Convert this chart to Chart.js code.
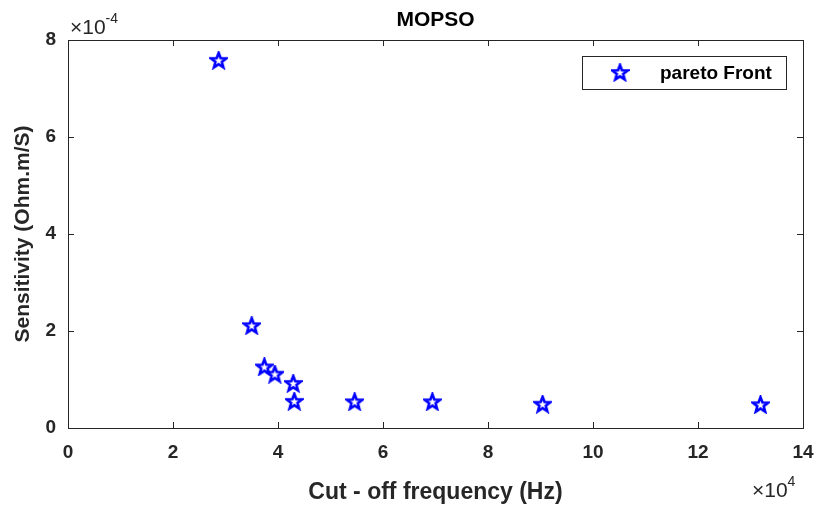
<!DOCTYPE html>
<html lang="en">
<head>
    <meta charset="UTF-8">
    <title>MOPSO</title>
    <script src="https://cdn.jsdelivr.net/npm/chart.js"></script>
    <style>
        html, body { margin: 0; padding: 0; background: #fff; }
        #wrap { width: 818px; height: 506px; }
    </style>
</head>
<body>
    <div id="wrap">
        <canvas id="paretoChart" width="818" height="506"></canvas>
    </div>

    <script>
        // cut-off frequency, in units of 1e4 Hz
        const freqValues = [2.87, 3.50, 3.74, 3.94, 4.29, 4.31, 5.46, 6.94, 9.04, 13.19];
        // sensitivity, in units of 1e-4 Ohm.m/S
        const sensValues = [7.58, 2.11, 1.26, 1.11, 0.92, 0.55, 0.54, 0.54, 0.49, 0.48];
        const xTicks = [0, 2, 4, 6, 8, 10, 12, 14];
        const yTicks = [0, 2, 4, 6, 8];
        const seriesName = 'pareto Front';

        const textColor = '#262626';
        const fontFamily = '"Liberation Sans", Arial, Helvetica, sans-serif';

        // five-point star marker (hollow, blue outline)
        function makeStar(size, color) {
            const c = document.createElement('canvas');
            c.width = size;
            c.height = size;
            const g = c.getContext('2d');
            const cx = size / 2, cy = size / 2 + 0.5;
            const R = size / 2 - 1.5, r = R * 0.42;
            g.beginPath();
            for (let i = 0; i < 10; i++) {
                const rad = i % 2 === 0 ? R : r;
                const a = -Math.PI / 2 + i * Math.PI / 5;
                g.lineTo(cx + rad * Math.cos(a), cy + rad * Math.sin(a));
            }
            g.closePath();
            g.strokeStyle = color;
            g.lineWidth = 2.6;
            g.lineJoin = 'miter';
            g.stroke();
            return c;
        }
        const starImg = makeStar(19, '#0000ff');

        // box around the axes + inward ticks + exponent labels + legend
        const matlabAxes = {
            id: 'matlabAxes',
            afterDraw(chart) {
                const ctx = chart.ctx;
                const a = chart.chartArea;
                const xs = chart.scales.x, ys = chart.scales.y;
                const tl = 6;
                ctx.save();
                ctx.strokeStyle = textColor;
                ctx.lineWidth = 1;
                ctx.strokeRect(a.left + 0.5, a.top + 0.5, a.right - a.left, a.bottom - a.top);
                ctx.beginPath();
                xTicks.forEach(v => {
                    const px = Math.round(xs.getPixelForValue(v)) + 0.5;
                    ctx.moveTo(px, a.bottom); ctx.lineTo(px, a.bottom - tl);
                    ctx.moveTo(px, a.top); ctx.lineTo(px, a.top + tl);
                });
                yTicks.forEach(v => {
                    const py = Math.round(ys.getPixelForValue(v)) + 0.5;
                    ctx.moveTo(a.left, py); ctx.lineTo(a.left + tl, py);
                    ctx.moveTo(a.right, py); ctx.lineTo(a.right - tl, py);
                });
                ctx.stroke();

                // exponent labels
                ctx.fillStyle = textColor;
                ctx.textBaseline = 'alphabetic';
                ctx.textAlign = 'left';
                ctx.font = '21px ' + fontFamily;
                ctx.fillText('\u00d710', a.left + 2, a.top - 6);
                let w = ctx.measureText('\u00d710').width;
                ctx.font = '14px ' + fontFamily;
                ctx.fillText('-4', a.left + 2 + w, a.top - 17);

                ctx.font = '21px ' + fontFamily;
                ctx.fillText('\u00d710', a.right - 51, a.bottom + 69);
                w = ctx.measureText('\u00d710').width;
                ctx.font = '14px ' + fontFamily;
                ctx.fillText('4', a.right - 51 + w, a.bottom + 58);

                // legend
                const lw = 204, lh = 33;
                const lx = a.right - 17 - lw, ly = a.top + 16;
                ctx.fillStyle = '#ffffff';
                ctx.fillRect(lx, ly, lw, lh);
                ctx.strokeStyle = textColor;
                ctx.strokeRect(lx + 0.5, ly + 0.5, lw, lh);
                ctx.drawImage(starImg, lx + 38 - starImg.width / 2, ly + lh / 2 - starImg.height / 2);
                ctx.fillStyle = '#000000';
                ctx.font = 'bold 19px ' + fontFamily;
                ctx.textBaseline = 'middle';
                ctx.fillText(seriesName, lx + 78, ly + lh / 2 + 1);
                ctx.restore();
            }
        };

        const points = freqValues.map((f, i) => ({ x: f, y: sensValues[i] }));

        const ctx = document.getElementById('paretoChart').getContext('2d');
        new Chart(ctx, {
            type: 'scatter',
            data: {
                datasets: [{
                    label: seriesName,
                    data: points,
                    pointStyle: starImg,
                    pointRadius: 9,
                    pointHoverRadius: 9
                }]
            },
            options: {
                responsive: false,
                animation: false,
                events: [],
                layout: { padding: { left: 0, right: 15, top: 0, bottom: 0 } },
                scales: {
                    x: {
                        type: 'linear',
                        min: 0,
                        max: 14,
                        afterBuildTicks: s => { s.ticks = xTicks.map(v => ({ value: v })); },
                        afterFit: s => {
                            s.height = 78;
                            s.paddingLeft = 0;
                            s.paddingRight = 0;
                        },
                        grid: { display: false, drawTicks: false },
                        border: { display: false },
                        ticks: {
                            padding: 13,
                            color: textColor,
                            font: { family: fontFamily, size: 19, weight: 'bold' }
                        },
                        title: {
                            display: true,
                            text: 'Cut - off frequency (Hz)',
                            color: textColor,
                            font: { family: fontFamily, size: 23, weight: 'bold' },
                            padding: { top: 7, bottom: 0 }
                        }
                    },
                    y: {
                        type: 'linear',
                        min: 0,
                        max: 8,
                        afterBuildTicks: s => { s.ticks = yTicks.map(v => ({ value: v })); },
                        afterFit: s => {
                            s.width = 68;
                            s.paddingTop = 0;
                            s.paddingBottom = 0;
                        },
                        grid: { display: false, drawTicks: false },
                        border: { display: false },
                        ticks: {
                            padding: 12,
                            color: textColor,
                            font: { family: fontFamily, size: 19, weight: 'bold' }
                        },
                        title: {
                            display: true,
                            text: 'Sensitivity (Ohm.m/S)',
                            color: textColor,
                            font: { family: fontFamily, size: 21, weight: 'bold' },
                            padding: { top: 11, bottom: 0 }
                        }
                    }
                },
                plugins: {
                    legend: { display: false },
                    tooltip: { enabled: false },
                    title: {
                        display: true,
                        text: 'MOPSO',
                        fullSize: false,
                        color: '#000000',
                        font: { family: fontFamily, size: 21, weight: 'bold', lineHeight: 1.2 },
                        padding: { top: 8, bottom: 6.8 }
                    }
                }
            },
            plugins: [matlabAxes]
        });
    </script>
</body>
</html>
